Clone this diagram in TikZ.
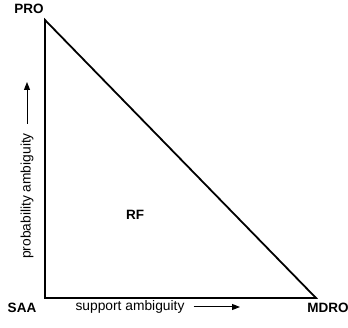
\documentclass[tikz,border=0pt]{standalone}
\usepackage{fontspec}
\setmainfont{Liberation Sans}
\usetikzlibrary{arrows.meta}

\begin{document}
\begin{tikzpicture}[x=1pt, y=-1pt,
  edge/.style={line width=1.8pt, line join=miter},
  axis/.style={-{Triangle[length=8pt, width=6pt]}, line width=1pt},
  vertex/.style={font=\fontsize{13.5}{15}\selectfont\bfseries, inner sep=0pt},
  lbl/.style={font=\fontsize{13.8}{15}\selectfont, inner sep=0pt}
]
\useasboundingbox (0,0) rectangle (348,328);
% triangle
\coordinate (saa) at (45,298);
\coordinate (pro) at (45,20);
\coordinate (mdro) at (316,298);
\draw[edge] (pro) -- (saa) -- (mdro) -- cycle;
% corner labels
\node[vertex] (tpro) at (29,9) {PRO};
\node[vertex] (tsaa) at (22,308) {SAA};
\node[vertex] (tmdro) at (328,308) {MDRO};
\node[vertex] (trf) at (135,215) {RF};
% axes
\node[lbl] (sup) at (130,307) {support ambiguity};
\coordinate (supend) at (240,307);
\draw[axis] ([xshift=9pt]sup.east) -- (supend);
\node[lbl, rotate=90] (prob) at (27,196) {probability ambiguity};
\coordinate (probend) at (27,82);
\draw[axis] ([yshift=9pt]prob.east) -- (probend);
\end{tikzpicture}
\end{document}
